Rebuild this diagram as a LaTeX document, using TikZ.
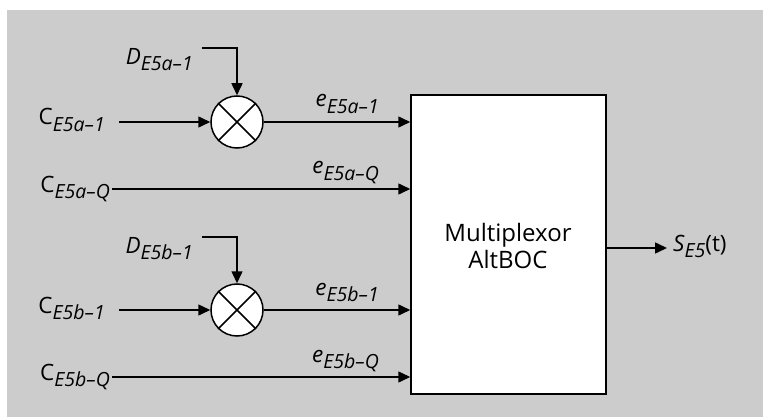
\documentclass[tikz,border=0pt]{standalone}
\usepackage{fontspec}
\setmainfont{Open Sans}
\usetikzlibrary{arrows.meta}
\definecolor{bggray}{HTML}{CCCCCC}
\newcommand{\sbs}[1]{\raisebox{-6pt}{\fontsize{19.5}{19.5}\selectfont\itshape #1}}
\begin{document}
\begin{tikzpicture}[x=1pt,y=-1pt,
  wire/.style={line width=1.5pt,-{Triangle[length=12pt,width=11pt]}},
  lbl/.style={font=\fontsize{22.5}{28}\selectfont, inner sep=0pt, text height=16pt, text depth=10pt},
  muxlbl/.style={font=\fontsize{24}{27}\selectfont, inner sep=0pt, align=center},
  mult/.style={circle,draw,line width=1.5pt,fill=white,minimum size=52pt,inner sep=0pt},
  muxbox/.style={draw,line width=1.5pt,fill=white,minimum width=195pt,minimum height=299pt,inner sep=0pt}]
\useasboundingbox (0,0) rectangle (763,417);
\fill[bggray] (7,10) rectangle (763,417);

% multiplexer box
\node[muxbox] (mux) at (508.5,244.5) {};
\node[muxlbl] (muxtxt) at (508,245.5) {Multiplexor\\AltBOC};

% multipliers
\node[mult] (m1) at (237,122) {};
\draw[line width=1.5pt] (m1.north east) -- (m1.south west) (m1.north west) -- (m1.south east);
\node[mult] (m2) at (237,310) {};
\draw[line width=1.5pt] (m2.north east) -- (m2.south west) (m2.north west) -- (m2.south east);

% input labels
\node[lbl,anchor=base east,inner xsep=14pt] (ca1) at (119,125) {C\sbs{E5a–1}};
\node[lbl,anchor=base east,inner xsep=2pt] (ca2) at (112,192) {C\sbs{E5a–Q}};
\node[lbl,anchor=base east,inner xsep=14pt] (cb1) at (119,313) {C\sbs{E5b–1}};
\node[lbl,anchor=base east,inner xsep=2pt] (cb2) at (112,380) {C\sbs{E5b–Q}};
\node[lbl,anchor=north east,inner xsep=9pt] (da1) at (202,48) {\itshape D\sbs{E5a–1}};
\node[lbl,anchor=north east,inner xsep=9pt] (db1) at (202,237) {\itshape D\sbs{E5b–1}};

% e labels
\node[lbl,anchor=base east] (ea1) at (379,107) {\itshape e\sbs{E5a–1}};
\node[lbl,anchor=base east] (ea2) at (379,174) {\itshape e\sbs{E5a–Q}};
\node[lbl,anchor=base east] (eb1) at (379,295) {\itshape e\sbs{E5b–1}};
\node[lbl,anchor=base east] (eb2) at (379,362) {\itshape e\sbs{E5b–Q}};

% output label
\node[lbl,anchor=west,inner xsep=6pt] (sout) at (667,248) {\itshape S\sbs{E5}\upshape(t)};

% connectors
\draw[wire] (ca1.east) -- (m1.west);
\draw[wire] (cb1.east) -- (m2.west);
\draw[wire] (da1.north east) -| (m1.north);
\draw[wire] (db1.north east) -| (m2.north);
\draw[wire] (m1.east) -- (mux.west |- m1.east);
\draw[wire] (m2.east) -- (mux.west |- m2.east);
\draw[wire] (ca2.east) -- (mux.west |- ca2.east);
\draw[wire] (cb2.east) -- (mux.west |- cb2.east);
\draw[wire] (mux.east |- sout.west) -- (sout.west);
\end{tikzpicture}
\end{document}
